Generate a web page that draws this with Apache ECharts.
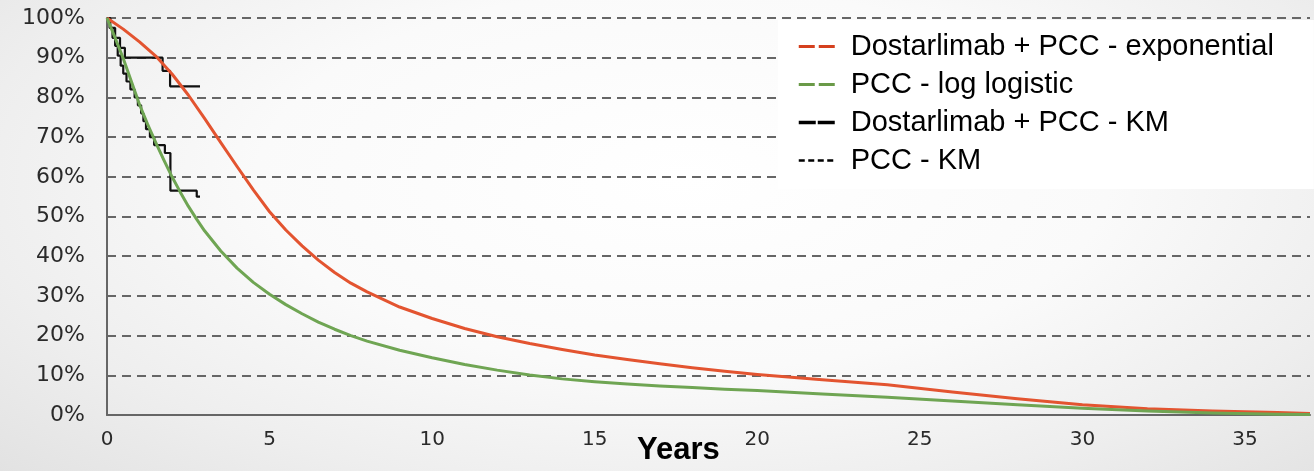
<!DOCTYPE html>
<html>
<head>
<meta charset="utf-8">
<script src="https://cdn.jsdelivr.net/npm/echarts@6/dist/echarts.min.js"></script>
<style>
html,body{margin:0;padding:0;}
#chart{width:1314px;height:471px;background:radial-gradient(ellipse 72% 90% at 52% 38%, #ffffff 0%, #fafafa 45%, #eeeeee 75%, #e2e2e2 100%);}
</style>
</head>
<body>
<div id="chart"></div>
<script>
// ---- data (years, survival %) ----
var seriesNames = ['Dostarlimab + PCC - exponential', 'PCC - log logistic', 'Dostarlimab + PCC - KM', 'PCC - KM'];
var xTicks = [0, 5, 10, 15, 20, 25, 30, 35];
var yTicks = [0, 10, 20, 30, 40, 50, 60, 70, 80, 90, 100];

var dostExpYears = [0, 0.5, 1, 1.5, 2, 2.5, 3, 3.5, 4, 4.5, 5, 5.5, 6, 6.5, 7, 7.5, 8, 9, 10, 11, 12, 13, 14, 15, 16, 17, 18, 19, 20, 22, 24, 26, 28, 30, 32, 34, 36, 37];
var dostExpValues = [100, 97.2, 94.0, 90.4, 85.9, 80.6, 74.7, 68.6, 62.6, 56.7, 51.2, 46.6, 42.6, 39.0, 35.9, 33.2, 31.0, 27.2, 24.3, 21.8, 19.7, 18.0, 16.5, 15.1, 14.0, 12.9, 11.9, 11.0, 10.2, 8.9, 7.6, 5.8, 4.1, 2.6, 1.6, 1.0, 0.6, 0.4];

var pccLLYears = [0, 0.25, 0.5, 0.75, 1, 1.25, 1.5, 1.75, 2, 2.25, 2.5, 2.75, 3, 3.5, 4, 4.5, 5, 5.5, 6, 6.5, 7, 7.5, 8, 9, 10, 11, 12, 13, 14, 15, 16, 17, 18, 19, 20, 22, 24, 26, 28, 30, 32, 34, 36, 37];
var pccLLValues = [100, 95, 89.8, 84, 78.2, 73.2, 68.6, 64.2, 60, 56.2, 52.6, 49.4, 46.4, 41.3, 37.0, 33.4, 30.4, 27.8, 25.5, 23.4, 21.6, 20.0, 18.6, 16.3, 14.4, 12.7, 11.3, 10.1, 9.1, 8.4, 7.8, 7.3, 6.9, 6.5, 6.2, 5.3, 4.5, 3.5, 2.6, 1.7, 1.0, 0.5, 0.2, 0.1];

var dostKMYears = [0, 0.1, 0.25, 0.4, 0.55, 1.71, 1.94, 2.86];
var dostKMValues = [100, 97.5, 95, 92.5, 90, 86.7, 82.8, 82.8];

var pccKMYears = [0, 0.08, 0.17, 0.25, 0.33, 0.42, 0.5, 0.6, 0.72, 0.85, 0.95, 1.05, 1.12, 1.2, 1.32, 1.45, 1.78, 1.95, 2.76, 2.86];
var pccKMValues = [100, 97.5, 95, 93, 90.5, 88, 86, 84, 82, 80, 78, 76, 74, 72, 70, 68, 66, 56.5, 55, 55];

function pairs(xs, ys) { return xs.map(function (x, i) { return [x, ys[i]]; }); }

var chart = echarts.init(document.getElementById('chart'), null, { renderer: 'canvas' });
var hidden = { color: 'rgba(0,0,0,0)', borderWidth: 0 };
var option = {
  backgroundColor: 'transparent',
  animation: false,
  grid: { left: 107, right: 4, top: 18, bottom: 56, containLabel: false },
  xAxis: {
    type: 'value', min: 0, max: 37, interval: 5,
    axisLine: { show: true, lineStyle: { color: '#666', width: 2 } },
    axisTick: { show: false },
    splitLine: { show: false },
    axisLabel: { showMaxLabel: false, margin: 15, color: '#2a2a2a', fontFamily: 'DejaVu Sans', fontSize: 20,
      formatter: function (v) { return xTicks.indexOf(v) >= 0 ? String(v) : ''; } }
  },
  yAxis: {
    type: 'value', min: 0, max: 100, interval: 10,
    axisLine: { show: true, lineStyle: { color: '#666', width: 2 } },
    axisTick: { show: false },
    splitLine: { show: true, lineStyle: { color: '#666', width: 2, type: [9, 6] } },
    axisLabel: { margin: 22, color: '#2a2a2a', fontFamily: 'DejaVu Sans', fontSize: 22,
      formatter: function (v) { return yTicks.indexOf(v) >= 0 ? v + '%' : ''; } }
  },
  legend: {
    orient: 'vertical', left: 778, top: 20,
    padding: [12, 40, 14, 19],
    backgroundColor: '#ffffff',
    itemWidth: 36, itemHeight: 14, itemGap: 9,
    textStyle: { fontFamily: 'Liberation Sans, Arial', fontSize: 29, lineHeight: 29, color: '#000', padding: [0, 0, 0, 11] },
    data: [
      { name: seriesNames[0], itemStyle: hidden, lineStyle: { color: '#D5401E', width: 3, type: [16, 4] } },
      { name: seriesNames[1], itemStyle: hidden, lineStyle: { color: '#6A9A48', width: 3, type: [16, 4] } },
      { name: seriesNames[2], itemStyle: hidden, lineStyle: { color: '#000000', width: 3.5, type: [17, 2] } },
      { name: seriesNames[3], itemStyle: hidden, lineStyle: { color: '#000000', width: 2.5, type: [6, 3.5] } }
    ]
  },
  graphic: [
    { type: 'text', left: 637, top: 435, style: { text: 'Years', font: 'bold 31px "Liberation Sans", Arial', fill: '#000' } }
  ],
  series: [
    { name: seriesNames[2], type: 'line', step: 'end', symbol: 'none', data: pairs(dostKMYears, dostKMValues),
      lineStyle: { color: '#111', width: 2.2 }, itemStyle: { color: '#111' }, z: 3 },
    { name: seriesNames[3], type: 'line', step: 'end', symbol: 'none', data: pairs(pccKMYears, pccKMValues),
      lineStyle: { color: '#111', width: 2.2 }, itemStyle: { color: '#111' }, z: 3 },
    { name: seriesNames[0], type: 'line', symbol: 'none', smooth: false, data: pairs(dostExpYears, dostExpValues),
      lineStyle: { color: '#E35430', width: 3, join: 'round' }, itemStyle: { color: '#E35430' }, z: 4 },
    { name: seriesNames[1], type: 'line', symbol: 'none', smooth: false, data: pairs(pccLLYears, pccLLValues),
      lineStyle: { color: '#6FA553', width: 3, join: 'round' }, itemStyle: { color: '#6FA553' }, z: 4 }
  ]
};
chart.setOption(option);
</script>
</body>
</html>
